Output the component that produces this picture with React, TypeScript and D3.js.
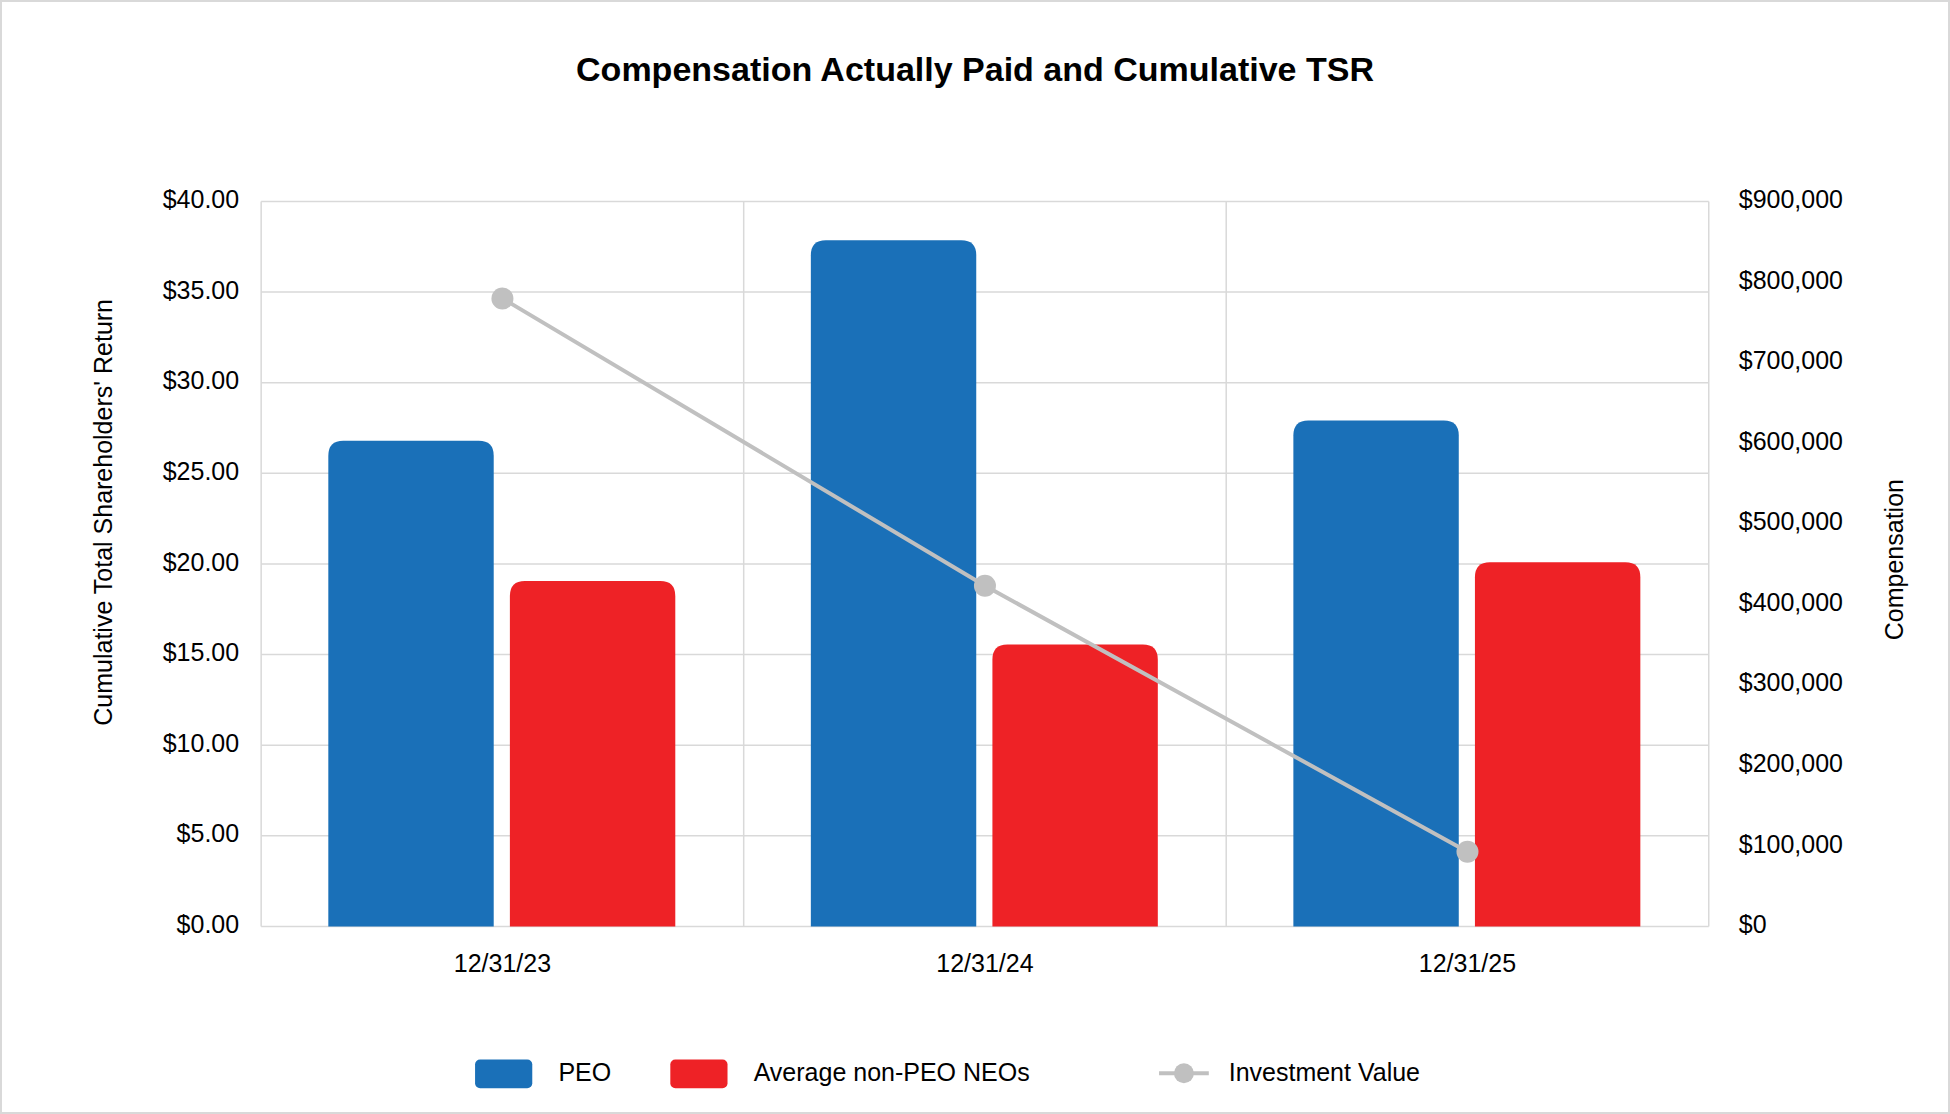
import * as d3 from "d3";

const years = ["12/31/23", "12/31/24", "12/31/25"];
const peoComp = [603000, 852000, 628000];
const neoComp = [429000, 350000, 452000];
const tsrValues = [34.65, 18.8, 4.12];
const seriesNames = ["PEO", "Average non-PEO NEOs", "Investment Value"];

const W = 1950;
const H = 1114;
const S = 1950 / 1568;
const m = { left: 210 * S, right: 1374 * S, top: 162 * S, bottom: 745 * S };
const font = "'Liberation Sans', Arial, sans-serif";
const BLUE = "#1a70b8";
const RED = "#ee2226";
const GRAY = "#c0c0c0";

function topRounded(x: number, y: number, w: number, h: number, r: number) {
  return `M${x},${y + h}V${y + r}Q${x},${y} ${x + r},${y}H${x + w - r}Q${x + w},${y} ${x + w},${y + r}V${y + h}Z`;
}

export default function App() {
  const x = d3.scaleBand<string>().domain(years).range([m.left, m.right]);
  const yL = d3.scaleLinear().domain([0, 40]).range([m.bottom, m.top]);
  const yR = d3.scaleLinear().domain([0, 900000]).range([m.bottom, m.top]);
  const bw = x.bandwidth();
  const barW = (133 / 388) * bw;
  const gap = (13 / 388) * bw;
  const padL = (54 / 388) * bw;
  const leftTicks = d3.range(0, 45, 5);
  const rightTicks = d3.range(0, 1000000, 100000);
  const line = d3
    .line<number>()
    .x((_, i) => x(years[i])! + bw / 2)
    .y((d) => yL(d));
  const fs = 25;

  return (
    <svg width={W} height={H} style={{ position: "absolute", left: 0, top: 0 }} fontFamily={font}>
      <rect x={1} y={1} width={W - 2} height={H - 2} fill="white" stroke="#d9d9d9" strokeWidth={2} />
      <text x={W / 2} y={58 * S} textAnchor="middle" dominantBaseline="middle" fontSize={34} fontWeight="bold">
        Compensation Actually Paid and Cumulative TSR
      </text>
      {leftTicks.map((t) => (
        <g key={t}>
          <line x1={m.left} x2={m.right} y1={yL(t)} y2={yL(t)} stroke="#d9d9d9" strokeWidth={1.5} />
          <text x={m.left - 22} y={yL(t)} textAnchor="end" dominantBaseline="middle" fontSize={fs}>
            {d3.format("$.2f")(t)}
          </text>
        </g>
      ))}
      {rightTicks.map((t) => (
        <text key={t} x={m.right + 30} y={yR(t)} dominantBaseline="middle" fontSize={fs}>
          {d3.format("$,")(t)}
        </text>
      ))}
      {[...years.map((y) => x(y)!), m.right].map((v, i) => (
        <line key={i} x1={v} x2={v} y1={m.top} y2={m.bottom} stroke="#d9d9d9" strokeWidth={1.5} />
      ))}
      {years.map((yr, i) => {
        const x0 = x(yr)! + padL;
        return (
          <g key={yr}>
            <path d={topRounded(x0, yR(peoComp[i]), barW, m.bottom - yR(peoComp[i]), 15)} fill={BLUE} />
            <path d={topRounded(x0 + barW + gap, yR(neoComp[i]), barW, m.bottom - yR(neoComp[i]), 15)} fill={RED} />
            <text x={x(yr)! + bw / 2} y={776 * S} textAnchor="middle" dominantBaseline="middle" fontSize={fs}>
              {yr}
            </text>
          </g>
        );
      })}
      <path d={line(tsrValues)!} fill="none" stroke={GRAY} strokeWidth={4} />
      {tsrValues.map((v, i) => (
        <circle key={i} cx={x(years[i])! + bw / 2} cy={yL(v)} r={11} fill={GRAY} />
      ))}
      <text transform={`translate(${85 * S},${412 * S}) rotate(-90)`} textAnchor="middle" dominantBaseline="middle" fontSize={fs}>
        Cumulative Total Shareholders' Return
      </text>
      <text transform={`translate(${1525 * S},${450 * S}) rotate(-90)`} textAnchor="middle" dominantBaseline="middle" fontSize={fs}>
        Compensation
      </text>
      <g fontSize={fs}>
        <rect x={382 * S} y={852 * S} width={46 * S} height={23 * S} rx={5} fill={BLUE} />
        <text x={449 * S} y={864 * S} dominantBaseline="middle">{seriesNames[0]}</text>
        <rect x={539 * S} y={852 * S} width={46 * S} height={23 * S} rx={5} fill={RED} />
        <text x={606 * S} y={864 * S} dominantBaseline="middle">{seriesNames[1]}</text>
        <line x1={932 * S} x2={972 * S} y1={863 * S} y2={863 * S} stroke={GRAY} strokeWidth={4} />
        <circle cx={952 * S} cy={863 * S} r={10} fill={GRAY} />
        <text x={988 * S} y={864 * S} dominantBaseline="middle">{seriesNames[2]}</text>
      </g>
    </svg>
  );
}
